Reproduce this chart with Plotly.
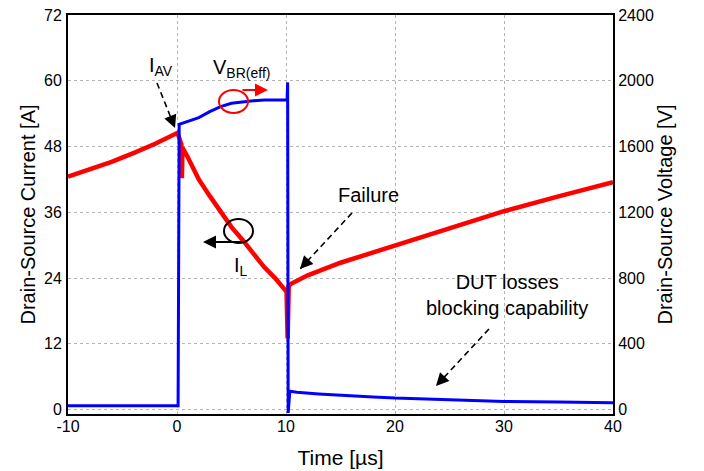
import plotly.graph_objects as go

# ---------------- data ----------------
# Inductor / drain-source current (left axis, A)
time_il = [-10, -8, -6, -4, -2, 0.05, 0.4, 0.45, 0.5, 1, 2, 3, 4, 5, 6, 7, 8, 9, 10.05,
           10.15, 10.25, 10.5, 12, 15, 20, 25, 30, 35, 40]
current_il = [42.5, 43.8, 45.2, 46.8, 48.5, 50.5, 48.4, 42.2, 47.8, 46.0, 42.0, 39.0, 36.0,
              33.3, 31.0, 28.5, 26.0, 24.0, 21.5, 13.0, 22.6, 23.0, 24.5, 26.8, 30.0,
              33.2, 36.2, 38.9, 41.5]

# Drain-source voltage (right axis, V)
time_vds = [-10, -7.5, -5, -2.5, 0.1, 0.2, 1, 2, 3, 4, 5, 6, 7, 8, 9, 10.1, 10.15, 10.2,
            10.35, 11, 13, 15, 18, 20, 25, 30, 35, 40]
voltage_vds = [24, 25, 23, 25, 24, 1735, 1752, 1776, 1812, 1843, 1863, 1872, 1878, 1883,
               1885, 1885, 1990, -20, 112, 105, 95, 86, 77, 70, 60, 50, 46, 42]

x_ticks = [-10, 0, 10, 20, 30, 40]
y_left_ticks = [0, 12, 24, 36, 48, 60, 72]
y_right_ticks = [0, 400, 800, 1200, 1600, 2000, 2400]

X_RANGE = [-10, 40]
Y_RANGE = [-0.8, 72]
Y2_RANGE = [Y_RANGE[0] * 2400 / 72, 2400]

# ---------------- layout geometry ----------------
# the page body has an 8px default margin, so the figure is drawn 8px in/down
OFF = 8
W, H = 704 - OFF, 471 - OFF
ML, MR, MT, MB = 68 - OFF, 91, 15 - OFF, 57
# plot-area edges in window pixels
PX0, PX1 = 68, 613
PY0, PY1 = 414, 15  # bottom, top


def tx(px):
    return X_RANGE[0] + (px - PX0) / (PX1 - PX0) * (X_RANGE[1] - X_RANGE[0])


def iy(py):
    return Y_RANGE[0] + (PY0 - py) / (PY0 - PY1) * (Y_RANGE[1] - Y_RANGE[0])


FONT = "Liberation Sans, Arial, Helvetica, sans-serif"

fig = go.Figure()
fig.add_trace(go.Scatter(x=time_vds, y=voltage_vds, mode="lines", yaxis="y2",
                         line=dict(color="#0000ff", width=3), hoverinfo="skip"))
fig.add_trace(go.Scatter(x=time_il, y=current_il, mode="lines", yaxis="y",
                         line=dict(color="#ff0000", width=4.5), hoverinfo="skip"))

grid = dict(showgrid=True, gridcolor="#b4b4b4", gridwidth=1, griddash="3px,3px")

fig.update_layout(
    width=W, height=H,
    margin=dict(l=ML, r=MR, t=MT, b=MB, autoexpand=False),
    paper_bgcolor="white", plot_bgcolor="white",
    showlegend=False,
    font=dict(family=FONT, color="black", size=16),
    xaxis=dict(range=X_RANGE, tickvals=x_ticks, ticktext=[str(v) for v in x_ticks],
               showline=True, linecolor="black", linewidth=2, mirror=True,
               zeroline=False, ticks="", tickfont=dict(size=16), automargin=False,
               ticklabelstandoff=-3, ticklabeloverflow="allow",
               title=dict(text="Time [µs]", font=dict(size=21), standoff=16), **grid),
    yaxis=dict(range=Y_RANGE, tickvals=y_left_ticks, ticktext=[str(v) for v in y_left_ticks],
               showline=True, linecolor="black", linewidth=2, mirror=True,
               zeroline=False, ticks="", tickfont=dict(size=16), ticklabelstandoff=1,
               automargin=False, ticklabeloverflow="allow",
               title=dict(text="Drain-Source Current [A]", font=dict(size=20), standoff=3),
               **grid),
    yaxis2=dict(range=Y2_RANGE, tickvals=y_right_ticks,
                ticktext=[str(v) for v in y_right_ticks], overlaying="y", side="right",
                showgrid=False, zeroline=False, showline=True, linecolor="black",
                linewidth=2, ticks="", tickfont=dict(size=16), ticklabelstandoff=0,
                automargin=False, ticklabeloverflow="allow",
                title=dict(text="Drain-Source Voltage [V]", font=dict(size=20), standoff=0)),
)

annotations = []
shapes = []


def text(px, py, s, size=20):
    annotations.append(dict(x=tx(px), y=iy(py), xref="x", yref="y", text=s, showarrow=False,
                            xanchor="center", yanchor="middle", align="center",
                            font=dict(size=size, family=FONT, color="black")))


def dashed_arrow(x0, y0, x1, y1):
    shapes.append(dict(type="line", xref="x", yref="y", x0=tx(x0), y0=iy(y0),
                       x1=tx(x1), y1=iy(y1), layer="above",
                       line=dict(color="black", width=1.6, dash="6px,4px")))
    dx, dy = x0 - x1, y0 - y1
    L = (dx * dx + dy * dy) ** 0.5
    annotations.append(dict(x=tx(x1), y=iy(y1), xref="x", yref="y", text="",
                            showarrow=True, ax=dx / L * 12, ay=dy / L * 12,
                            arrowhead=2, arrowsize=1.6, arrowwidth=1.6,
                            arrowcolor="black", standoff=0, startstandoff=0))


def solid_arrow(x0, y0, x1, y1, color):
    annotations.append(dict(x=tx(x1), y=iy(y1), xref="x", yref="y", text="",
                            showarrow=True, ax=tx(x0), ay=iy(y0), axref="x", ayref="y",
                            arrowhead=2, arrowsize=1.3, arrowwidth=2,
                            arrowcolor=color, standoff=0))


def ellipse(x0, y0, x1, y1, color):
    shapes.append(dict(type="circle", xref="x", yref="y", x0=tx(x0), x1=tx(x1),
                       y0=iy(y1), y1=iy(y0), layer="above",
                       line=dict(color=color, width=2)))


# labels
text(161, 66, "I<sub>AV</sub>")
text(241, 68, "V<sub>BR(eff)</sub>")
text(368, 195, "Failure")
text(241, 266, "I<sub>L</sub>")
text(507, 295, "DUT losses<br>blocking capability")

# annotation marks
ellipse(219, 90, 248, 113, "#ff0000")
solid_arrow(241, 90, 268, 90, "#ff0000")
ellipse(224, 219, 253, 243, "black")
solid_arrow(243, 242, 203, 242, "black")

dashed_arrow(157, 83, 175, 128)
dashed_arrow(352, 213, 300, 269)
dashed_arrow(489, 329, 436, 386)

fig.update_layout(annotations=annotations, shapes=shapes)

fig.write_html("out.html")
